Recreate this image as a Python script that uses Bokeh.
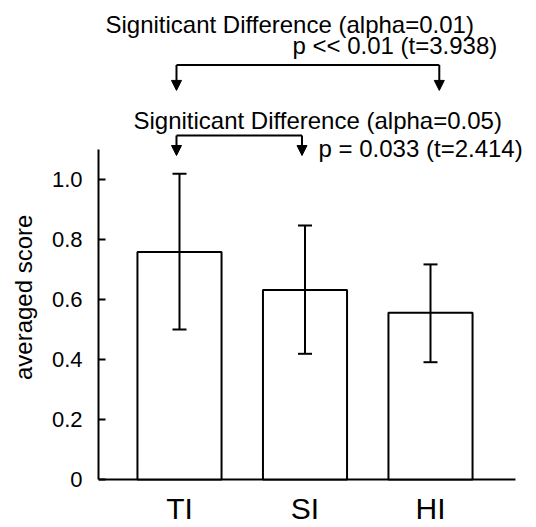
from bokeh.plotting import figure
from bokeh.models import (Range1d, FixedTicker, PrintfTickFormatter, Whisker, TeeHead,
                          Arrow, NormalHead, ColumnDataSource)
from bokeh.core.properties import value
from bokeh.embed import file_html
from bokeh.resources import INLINE

# ---- data ----
categories = ["TI", "SI", "HI"]
means = [0.758, 0.632, 0.556]
upper = [1.019, 0.847, 0.717]
lower = [0.500, 0.419, 0.391]
y_ticks = [0, 0.2, 0.4, 0.6, 0.8, 1.0]

# significance annotations (pairs of category indices)
sig_pairs = [(0, 2), (0, 1)]
sig_titles = ["Signiticant Difference (alpha=0.01)", "Signiticant Difference (alpha=0.05)"]
sig_pvalues = ["p << 0.01 (t=3.938)", "p = 0.033 (t=2.414)"]
bracket_levels = [1.382, 1.147]

FONT = "Liberation Sans"
pos = [i + 1 for i in range(len(categories))]

x_start, x_end = 0.3546, 3.8446
axis_end = 3.677
y_start, y_end = -0.16, 1.5967

p = figure(width=536, height=527, output_backend="svg", toolbar_location=None,
           x_range=Range1d(x_start, x_end), y_range=Range1d(y_start, y_end),
           x_axis_location=None, min_border_left=98, min_border_right=0,
           min_border_top=0, min_border_bottom=0)
p.outline_line_color = None
p.grid.visible = False
p.background_fill_color = "white"
p.border_fill_color = "white"

# y axis
ya = p.yaxis[0]
ya.bounds = (0, 1.1)
ya.ticker = FixedTicker(ticks=y_ticks)
ya.formatter = PrintfTickFormatter(format="%.1f")
ya.major_label_overrides = {0: "0"}
ya.major_tick_in = 7
ya.major_tick_out = 0
ya.minor_tick_line_color = None
ya.axis_line_width = 2
ya.major_tick_line_width = 2
ya.axis_line_color = "black"
ya.major_tick_line_color = "black"
ya.major_label_text_font = FONT
ya.major_label_text_font_size = "22px"
ya.major_label_text_color = "black"
ya.major_label_standoff = 16
# trailing non-breaking spaces shift the label toward the lower part of the axis
ya.axis_label = "averaged score" + "\u00a0" * 10
ya.axis_label_text_font = FONT
ya.axis_label_text_font_size = "24px"
ya.axis_label_text_font_style = "normal"
ya.axis_label_text_color = "black"
ya.axis_label_standoff = 12

# baseline
p.segment(x0=[x_start], y0=[0], x1=[axis_end], y1=[0], line_color="black", line_width=2)

# bars
src = ColumnDataSource(dict(x=pos, top=means, upper=upper, lower=lower))
p.vbar(x="x", top="top", width=0.67, source=src, fill_color="white",
       line_color="black", line_width=2)

# error bars
p.add_layout(Whisker(base="x", upper="upper", lower="lower", source=src, level="overlay",
                     line_color="black", line_width=2,
                     upper_head=TeeHead(size=14, line_width=2, line_color="black"),
                     lower_head=TeeHead(size=14, line_width=2, line_color="black")))

# x labels
p.text(x=pos, y=[-0.098] * len(pos), text=categories, text_align="center",
       text_baseline="middle", text_font=value(FONT), text_font_size="30px",
       text_color="black")

# significance brackets
tip_drop = [0.085, 0.067]
dx_left = [-0.024, -0.024]
dx_right = [0.07, -0.024]
title_x = [0.41, 0.633]
title_dy = [0.136, 0.050]
pval_x = [1.90, 2.108]
pval_dy = [0.065, -0.043]
for k, (a, b) in enumerate(sig_pairs):
    yb = bracket_levels[k]
    xa = pos[a] + dx_left[k]
    xb = pos[b] + dx_right[k]
    p.line(x=[xa, xb], y=[yb, yb], line_color="black", line_width=2)
    for xx in (xa, xb):
        p.add_layout(Arrow(x_start=xx, y_start=yb, x_end=xx, y_end=yb - tip_drop[k],
                           line_color="black", line_width=2, level="overlay",
                           end=NormalHead(size=10, fill_color="black",
                                          line_color="black", line_width=1)))
    p.text(x=[title_x[k]], y=[yb + title_dy[k]], text=[sig_titles[k]],
           text_align="left", text_baseline="alphabetic", text_font=value(FONT),
           text_font_size="24px", text_color="black")
    p.text(x=[pval_x[k]], y=[yb + pval_dy[k]], text=[sig_pvalues[k]],
           text_align="left", text_baseline="alphabetic", text_font=value(FONT),
           text_font_size="24px", text_color="black")

open("out.html", "w").write(file_html(p, INLINE))
